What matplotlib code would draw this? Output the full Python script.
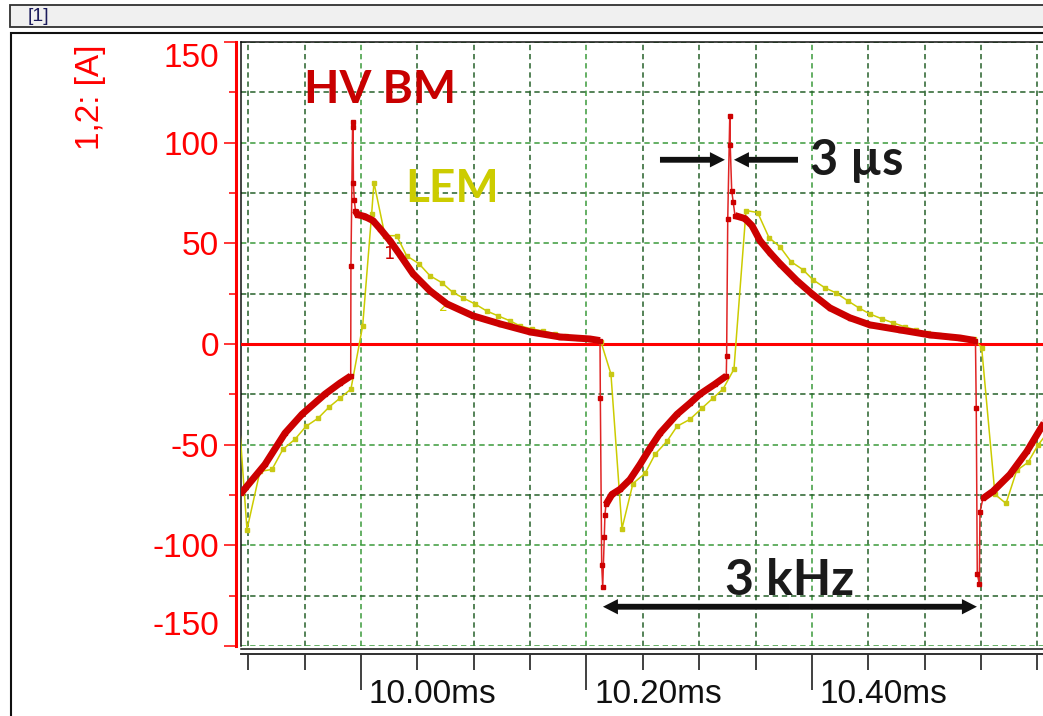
import numpy as np
import matplotlib
matplotlib.use("Agg")
import matplotlib.pyplot as plt
from matplotlib.patches import Rectangle
from matplotlib.lines import Line2D
from matplotlib.transforms import ScaledTranslation
from matplotlib.ticker import MultipleLocator

plt.rcParams['font.family'] = ['Liberation Sans', 'DejaVu Sans']

# channel 1 - HV BM probe, time [ms] / current [A]
hv_t = [9.8936, 9.9149, 9.9326, 9.9477, 9.9681, 9.9814, 9.9909,
        9.9911, 9.9926, 9.9930, 9.9933, 9.9941, 9.9951, 9.9969,
        10.0035, 10.0106, 10.0169, 10.0257, 10.0346, 10.0461, 10.0612, 10.0763,
        10.0993, 10.1233, 10.1499, 10.1765, 10.2031, 10.2120,
        10.2123, 10.2135, 10.2144, 10.2158, 10.2164, 10.2173,
        10.2226, 10.2297, 10.2386, 10.2475, 10.2563, 10.2652, 10.2803, 10.2918,
        10.3007, 10.3140, 10.3240,
        10.3243, 10.3253, 10.3271, 10.3275, 10.3288, 10.3302, 10.3317,
        10.3406, 10.3468, 10.3539, 10.3628, 10.3716, 10.3867, 10.4000, 10.4160,
        10.4337, 10.4514, 10.4780, 10.5047, 10.5313, 10.5450,
        10.5457, 10.5466, 10.5484, 10.5490, 10.5517,
        10.5605, 10.5756, 10.5907, 10.6067]
hv_a = [-74.2, -59.8, -44.3, -34.9, -24.9, -19.4, -15.9,
        38.9, 110.1, 107.6, 80.2, 71.3, 66.3, 64.3,
        63.3, 61.3, 57.3, 51.3, 44.3, 34.9, 26.4, 19.9,
        14.0, 10.0, 6.0, 3.5, 2.5, 1.7,
        -26.9, -109.6, -120.6, -95.7, -84.7, -79.7,
        -74.7, -72.2, -67.3, -59.8, -51.8, -44.3, -34.9, -29.4,
        -24.9, -19.9, -15.9,
        -6.0, 62.3, 113.1, 98.7, 76.2, 70.3, 63.8,
        62.3, 58.8, 51.3, 45.3, 39.9, 31.4, 24.9, 17.9,
        13.0, 9.5, 7.0, 4.5, 3.0, 1.7,
        -31.9, -114.1, -119.1, -83.2, -76.7,
        -73.2, -64.8, -53.3, -38.4]

# channel 2 - LEM sensor
lem_t = [9.8891, 9.8989, 9.9104, 9.9211, 9.9308, 9.9415, 9.9512, 9.9619, 9.9716, 9.9814, 9.9911,
         10.0015, 10.0095, 10.0115, 10.0213, 10.0317, 10.0405, 10.0514, 10.0612, 10.0716, 10.0816, 10.0905,
         10.1011, 10.1115, 10.1215, 10.1322, 10.1410, 10.1514, 10.1614, 10.1721, 10.1818, 10.1925, 10.2031, 10.2129,
         10.2217, 10.2315, 10.2412, 10.2519, 10.2608, 10.2714, 10.2803, 10.2918, 10.3024, 10.3122, 10.3211, 10.3308,
         10.3415, 10.3518, 10.3619, 10.3716, 10.3814, 10.3920, 10.4009, 10.4115, 10.4213, 10.4319, 10.4417, 10.4514,
         10.4621, 10.4719, 10.4825, 10.4922, 10.5029, 10.5126, 10.5233, 10.5330, 10.5437,
         10.5505, 10.5623, 10.5721, 10.5816, 10.5916, 10.6004, 10.6111]
lem_a = [-14.9, -92.2, -63.3, -62.3, -52.3, -47.3, -40.9, -36.9, -31.4, -26.9, -22.4,
         9.0, 64.8, 80.2, 53.8, 53.8, 43.8, 39.9, 33.9, 30.5, 25.6, 22.9,
         19.9, 16.4, 14.0, 11.5, 9.0, 7.5, 6.5, 5.0, 4.0, 3.0, 2.5, 1.0,
         -14.9, -91.7, -69.3, -64.3, -54.8, -48.3, -40.9, -37.4, -31.9, -26.9, -22.4, -12.5,
         66.3, 65.3, 52.8, 48.3, 40.9, 36.9, 31.9, 27.9, 25.4, 21.4, 17.9, 14.9,
         12.5, 10.5, 8.5, 7.0, 5.5, 4.5, 3.5, 3.0, 2.5,
         -1.8, -74.7, -79.2, -62.8, -58.8, -50.3, -42.4]

x_major = [10.0, 10.2, 10.4]
x_labels = ['10.00ms', '10.20ms', '10.40ms']
y_major = [-150, -100, -50, 0, 50, 100, 150]
y_labels = ['-150', '-100', '-50', '0', '50', '100', '150']

RED = '#ff0000'
HV_COL = '#cc0000'
LEM_COL = '#cccc00'

fig = plt.figure(figsize=(10.43, 7.16), dpi=100)

# window chrome: title bar and panel frame
fig.patches.append(Rectangle((10/1043, 1 - 27/716), 1.2, 22/716, transform=fig.transFigure,
                             facecolor='#f0f0f0', edgecolor='#303030', lw=1.3, zorder=-2))
fig.text(28/1043, 1 - 16.5/716, '[1]', color='#1c1c5c', fontsize=14, va='center', ha='left')
fig.patches.append(Rectangle((10.5/1043, -0.1), 1.2, 1.1 - 33/716, transform=fig.transFigure,
                             facecolor='white', edgecolor='#101010', lw=1.5, zorder=-2))

ax = fig.add_axes([241/1043, 70/716, 1 - 241/1043, 604/716])
ax.set_zorder(1)
ax.set_facecolor('none')
ax.set_xlim(9.8936, 10.6049)
ax.set_ylim(-150, 150)

ax.set_xticks(x_major, labels=x_labels)
ax.xaxis.set_minor_locator(MultipleLocator(0.05))
ax.set_yticks(y_major, labels=y_labels)
ax.yaxis.set_minor_locator(MultipleLocator(25))

dash = (0, (3.5, 2.5))
ax.grid(which='major', color='#3a9a3a', lw=1.1, ls=dash, zorder=0)
ax.grid(which='minor', color='#26602a', lw=1.1, ls=dash, zorder=0)
ax.set_axisbelow(True)

ax.spines['right'].set_visible(False)
ax.spines['top'].set_color('#101010')
ax.spines['top'].set_linewidth(1.1)
ax.spines['left'].set_position(('outward', 3.6))
ax.spines['left'].set_color(RED)
ax.spines['left'].set_linewidth(2.2)
ax.spines['bottom'].set_position(('outward', 5.8))
ax.spines['bottom'].set_color('#303030')
ax.spines['bottom'].set_linewidth(1.4)

ax.tick_params(axis='y', which='major', length=8.6, width=1.1, color=RED,
               labelcolor=RED, labelsize=24, pad=3.6)
ax.tick_params(axis='y', which='minor', length=5, width=1.1, color=RED)
ax.tick_params(axis='x', which='major', length=26, width=1.4, color='#404040',
               labelcolor='#101010', labelsize=24, pad=-8)
ax.tick_params(axis='x', which='minor', length=11.5, width=1.4, color='#404040')

# plot frame lines (left edge and bottom edge)
ax.add_line(Line2D([0, 0], [0, 1], transform=ax.transAxes, color='#101010', lw=1.1, clip_on=False))
ax.add_line(Line2D([0, 1], [0, 0], color='#101010', lw=1.1, clip_on=False,
                   transform=ax.transAxes + ScaledTranslation(0, -0.03, fig.dpi_scale_trans)))

# x labels sit to the right of the major ticks
shift_x = ScaledTranslation(0.08, 0, fig.dpi_scale_trans)
for lab in ax.get_xticklabels():
    lab.set_horizontalalignment('left')
    lab.set_transform(lab.get_transform() + shift_x)
ylabs = ax.get_yticklabels()
ylabs[0].set_transform(ylabs[0].get_transform() + ScaledTranslation(0, 0.23, fig.dpi_scale_trans))
ylabs[-1].set_transform(ylabs[-1].get_transform() + ScaledTranslation(0, -0.13, fig.dpi_scale_trans))

fig.text(90/1043, 1 - 97/716, '1,2: [A]', rotation=90, color=RED, fontsize=24,
         ha='center', va='center')

# zero line
ax.axhline(0, color=RED, lw=2.2, zorder=2)

# LEM trace
ax.plot(lem_t, lem_a, color=LEM_COL, lw=1.1, marker='s', ms=3, mfc='#c8c814', mec='#c8c814', zorder=3)

# HV BM trace: thin line with sample markers, thick where the signal moves slowly
hv_t = np.array(hv_t)
hv_a = np.array(hv_a)
ax.plot(hv_t, hv_a, color='#e02424', lw=1.1, marker='s', ms=3.4, mfc=HV_COL, mec=HV_COL, zorder=4)
steep = np.abs(np.diff(hv_a) / np.diff(hv_t)) > 1400
start = 0
for i in range(len(steep) + 1):
    if i == len(steep) or steep[i]:
        if i > start:
            ax.plot(hv_t[start:i + 1], hv_a[start:i + 1], color=HV_COL, lw=5,
                    solid_capstyle='butt', solid_joinstyle='round', zorder=5)
        start = i + 1

# cursor markers
ax.text(10.0257, 44.8, '1', color=HV_COL, fontsize=13, family='DejaVu Sans',
        ha='center', va='center', zorder=6)
ax.text(10.0727, 18.4, '2', color=LEM_COL, fontsize=10, family='DejaVu Sans',
        ha='center', va='center', zorder=3)

# annotations
bold = dict(family=['Lato', 'DejaVu Sans'], weight='bold')
ax.text(9.9494, 119.6, 'HV BM', color='#c80000', fontsize=33, va='baseline', zorder=7, **bold)
ax.text(10.0390, 70.3, 'LEM', color=LEM_COL, fontsize=33, va='baseline', zorder=7, **bold)
ax.text(10.3982, 83.7, '3 µs', color='#1a1a1a', fontsize=35, va='baseline', zorder=7, **bold)
ax.text(10.3228, -124.6, '3 kHz', color='#1a1a1a', fontsize=36, va='baseline', zorder=7, **bold)

arrow = dict(arrowstyle='simple,head_length=1.08,head_width=1.1,tail_width=0.42',
             mutation_scale=10, color='#101010', lw=0, shrinkA=0, shrinkB=0)
ax.annotate('', xy=(10.3228, 91.5), xytext=(10.2652, 91.5), arrowprops=arrow, zorder=7)
ax.annotate('', xy=(10.3308, 91.5), xytext=(10.3876, 91.5), arrowprops=arrow, zorder=7)
ax.annotate('', xy=(10.2146, -130.5), xytext=(10.3805, -130.5), arrowprops=arrow, zorder=7)
ax.annotate('', xy=(10.5463, -130.5), xytext=(10.3805, -130.5), arrowprops=arrow, zorder=7)

fig.savefig('out.png', dpi=100)
